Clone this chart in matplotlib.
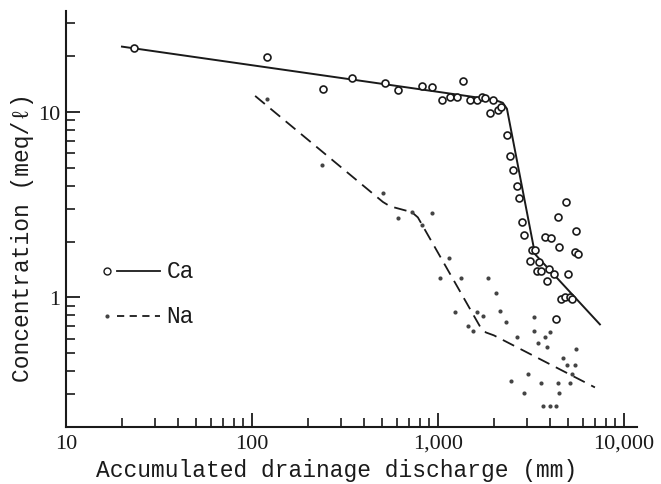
import numpy as np
import matplotlib.pyplot as plt
from matplotlib.ticker import FixedLocator, FixedFormatter, NullFormatter

# Ca: measured points and fitted line
ca_x = [23.2, 120, 241, 345, 519, 609, 820, 929, 1052, 1161, 1265, 1362, 1485, 1621,
        1725, 1790, 1977, 1905, 2104, 2183, 2350, 2440, 2530, 2660, 2725, 2830, 2900,
        3200, 3325, 4875, 4415, 5520, 3760, 4055, 4475, 5460, 5660, 3125, 3490, 3955,
        3400, 3580, 4205, 5000, 3855, 4580, 4820, 5130, 5250, 4305]
ca_y = [22.2, 19.8, 13.3, 15.3, 14.4, 13.1, 13.8, 13.6, 11.6, 12.1, 12.1, 14.7, 11.6, 11.6,
        12.1, 11.9, 11.6, 9.9, 10.3, 10.6, 7.5, 5.78, 4.86, 3.98, 3.43, 2.54, 2.16,
        1.80, 1.80, 3.27, 2.70, 2.27, 2.11, 2.08, 1.86, 1.75, 1.71, 1.58, 1.55, 1.43,
        1.38, 1.38, 1.33, 1.33, 1.22, 0.975, 1.01, 1.01, 0.975, 0.76]
ca_fit_x = [20, 2023, 2233, 2350, 3327, 7430]
ca_fit_y = [22.5, 11.6, 11.2, 10.4, 1.71, 0.715]

# Na: measured points and fitted line
na_x = [120.5, 238, 506, 609, 724, 929, 820, 1146, 1026, 1330, 1858, 2050, 1233, 1621,
        1745, 2153, 2322, 1449, 1540, 2660, 3280, 3280, 3760, 4000, 3450, 3855, 5520,
        4700, 4945, 5460, 5250, 3050, 2466, 3580, 4415, 5130, 2900, 4475, 3675, 4000, 4305]
na_y = [11.8, 5.18, 3.65, 2.67, 2.88, 2.84, 2.45, 1.63, 1.28, 1.27, 1.27, 1.06, 0.83, 0.83,
        0.79, 0.84, 0.74, 0.70, 0.655, 0.608, 0.78, 0.655, 0.615, 0.647, 0.571, 0.537, 0.53,
        0.474, 0.43, 0.43, 0.388, 0.388, 0.356, 0.347, 0.347, 0.347, 0.306, 0.306, 0.261,
        0.261, 0.261]
na_fit_x = [104, 506, 552, 724, 780, 1683, 1811, 2000, 6985]
na_fit_y = [12.2, 3.27, 3.10, 2.88, 2.70, 0.697, 0.647, 0.624, 0.327]

x_ticks = [10, 100, 1000, 10000]
x_ticklabels = ['10', '100', '1,000', '10,000']
y_ticks = [1, 10]
y_ticklabels = ['1', '10']

mono = ['Liberation Mono', 'DejaVu Sans Mono']
serif = ['Liberation Serif', 'DejaVu Serif']
ink = '#1a1a1a'

fig = plt.figure(figsize=(6.61, 4.85), dpi=100)
ax = fig.add_axes([0.0998, 0.1175, 0.8638, 0.8577])

ax.plot(ca_fit_x, ca_fit_y, color=ink, lw=1.4, zorder=2)
ax.plot(ca_x, ca_y, 'o', ms=5, mfc='white', mec=ink, mew=1.2, zorder=3)
ax.plot(na_fit_x, na_fit_y, color=ink, lw=1.3, dashes=(7, 4), zorder=2)
ax.plot(na_x, na_y, 'o', ms=3, color='#444444', mew=0, zorder=3)

ax.set_xscale('log')
ax.set_yscale('log')
ax.set_xlim(10, 11750)
ax.set_ylim(0.2, 35)

ax.xaxis.set_major_locator(FixedLocator(x_ticks))
ax.xaxis.set_major_formatter(FixedFormatter(x_ticklabels))
ax.xaxis.set_minor_locator(FixedLocator(
    [m * d for d in (10, 100, 1000) for m in range(2, 10)]))
ax.xaxis.set_minor_formatter(NullFormatter())
ax.yaxis.set_major_locator(FixedLocator(y_ticks))
ax.yaxis.set_major_formatter(FixedFormatter(y_ticklabels))
ax.yaxis.set_minor_locator(FixedLocator(
    [m * d for d in (0.1, 1, 10) for m in range(2, 10) if 0.2 < m * d < 35]))
ax.yaxis.set_minor_formatter(NullFormatter())

ax.tick_params(which='major', direction='in', length=10, width=1.3, color=ink,
               labelsize=16, labelcolor=ink, pad=4)
ax.tick_params(which='minor', direction='in', length=6.5, width=1.2, color=ink)
ax.tick_params(axis='x', which='major', pad=5)
for lab in ax.get_xticklabels() + ax.get_yticklabels():
    lab.set_family(serif)

for side in ('top', 'right'):
    ax.spines[side].set_visible(False)
for side in ('left', 'bottom'):
    ax.spines[side].set_linewidth(1.5)
    ax.spines[side].set_color(ink)

ax.set_xlabel('Accumulated drainage discharge (mm)', family=mono, fontsize=16.5,
              color=ink, va='center')
ax.xaxis.set_label_coords(0.474, -0.103)
ax.set_ylabel('Concentration (meq/ℓ)', family=mono, fontsize=16.5,
              color=ink, va='center')
ax.yaxis.set_label_coords(-0.077, 0.458)

# legend keys: marker, then a short line, then the ion name
for ky, marker, ms, mfc, dash in [(0.376, 'o', 5, 'white', None),
                                  (0.267, 'o', 3, '#444444', (4, 3))]:
    ax.plot([0.072], [ky], marker, ms=ms, mfc=mfc, mec=ink, mew=1.0 if mfc == 'white' else 0,
            transform=ax.transAxes, clip_on=False)
    line, = ax.plot([0.089, 0.164], [ky, ky], color=ink, lw=1.3,
                    transform=ax.transAxes, clip_on=False)
    if dash:
        line.set_dashes(dash)
ax.text(0.176, 0.376, 'Ca', family=mono, fontsize=16.5, color=ink,
        va='center', transform=ax.transAxes)
ax.text(0.176, 0.267, 'Na', family=mono, fontsize=16.5, color=ink,
        va='center', transform=ax.transAxes)

plt.savefig('out.png', dpi=100)
